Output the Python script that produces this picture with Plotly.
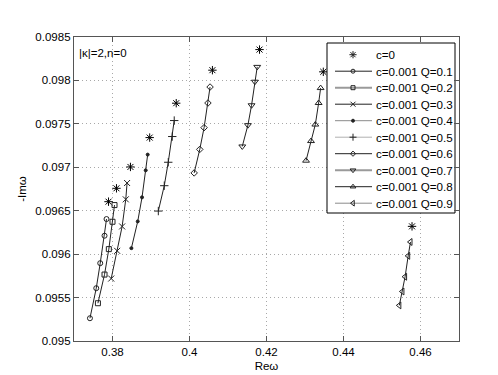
import plotly.graph_objects as go

# c = 0 reference points
c0_re = [0.37897, 0.38103, 0.38466, 0.38966, 0.39655, 0.40595, 0.41819, 0.43475, 0.4578]
c0_im = [0.096604, 0.096758, 0.097004, 0.097342, 0.097738, 0.098118, 0.098355, 0.098099, 0.09632]

# c = 0.001 series, one per Q
q_labels = ["0.1", "0.2", "0.3", "0.4", "0.5", "0.6", "0.7", "0.8", "0.9"]
re_q01 = [0.37414, 0.37578, 0.37681, 0.37793, 0.37845]
im_q01 = [0.095262, 0.095608, 0.095896, 0.096212, 0.096404]
re_q02 = [0.37621, 0.37793, 0.37905, 0.38000, 0.38052]
im_q02 = [0.095435, 0.095765, 0.096058, 0.096373, 0.096565]
re_q03 = [0.37966, 0.38121, 0.38250, 0.38345, 0.38379]
im_q03 = [0.095719, 0.096038, 0.096319, 0.096631, 0.096819]
re_q04 = [0.38491, 0.38655, 0.38767, 0.38862, 0.38914]
im_q04 = [0.096069, 0.096377, 0.096654, 0.096965, 0.097146]
re_q05 = [0.39190, 0.39345, 0.39448, 0.39552, 0.39603]
im_q05 = [0.096496, 0.096788, 0.097058, 0.097354, 0.097538]
re_q06 = [0.40121, 0.40267, 0.40379, 0.40479, 0.40534]
im_q06 = [0.096935, 0.097206, 0.097456, 0.097740, 0.097924]
re_q07 = [0.41371, 0.41517, 0.41612, 0.41698, 0.41759]
im_q07 = [0.097240, 0.097485, 0.097714, 0.097985, 0.098156]
re_q08 = [0.43027, 0.43156, 0.43268, 0.43354, 0.43406]
im_q08 = [0.097076, 0.097302, 0.097492, 0.097740, 0.097912]
re_q09 = [0.45450, 0.45530, 0.45600, 0.45680, 0.45740]
im_q09 = [0.095410, 0.095570, 0.095740, 0.095980, 0.096140]

x_tickvals = [0.38, 0.40, 0.42, 0.44, 0.46]
x_ticktext = ["0.38", "0.4", "0.42", "0.44", "0.46"]
y_tickvals = [0.095, 0.0955, 0.096, 0.0965, 0.097, 0.0975, 0.098, 0.0985]
y_ticktext = ["0.095", "0.0955", "0.096", "0.0965", "0.097", "0.0975", "0.098", "0.0985"]

series_re = [re_q01, re_q02, re_q03, re_q04, re_q05, re_q06, re_q07, re_q08, re_q09]
series_im = [im_q01, im_q02, im_q03, im_q04, im_q05, im_q06, im_q07, im_q08, im_q09]
symbols = ["circle-open", "square-open", "x-thin-open", "circle", "cross-thin-open",
           "diamond-open", "triangle-down-open", "triangle-up-open", "triangle-left-open"]
sizes = [5, 5, 6, 3, 6, 5, 6, 6, 6]

FONT = "Liberation Sans, Arial, sans-serif"
INK = "#222222"

fig = go.Figure()
fig.add_trace(go.Scatter(
    x=c0_re, y=c0_im, mode="markers", name="c=0", showlegend=False,
    marker=dict(symbol="asterisk-open", size=7, color="black",
                line=dict(width=1, color="black")),
))
for q, xs, ys, sym, sz in zip(q_labels, series_re, series_im, symbols, sizes):
    fig.add_trace(go.Scatter(
        x=xs, y=ys, mode="lines+markers", name=f"c=0.001 Q={q}", showlegend=False,
        line=dict(color=INK, width=1),
        marker=dict(symbol=sym, size=sz, color=INK, line=dict(width=1, color=INK)),
    ))

# ---- hand-drawn legend box (pixel-space overlay axes) ----
leg_names = ["c=0"] + [f"c=0.001 Q={q}" for q in q_labels]
leg_symbols = ["asterisk-open"] + symbols
leg_sizes = [6] + [4, 4, 5, 3, 5, 4, 5, 5, 5]
leg_line_colors = [None, "#222222", "#9a9a9a", "#222222", "#8a8a8a", "#b0b0b0",
                   "#222222", "#9a9a9a", "#222222", "#8a8a8a"]
leg_line_widths = [0, 1, 2, 1, 1, 1, 1, 2, 1, 1]
box_l, box_r, box_t, box_b = 319, 447, 35, 205
row0, row_step = 46.7, 16.5
ln_l, ln_r, mk_x, txt_x = 327, 364, 345, 366

fig.add_trace(go.Scatter(
    x=[box_l, box_r, box_r, box_l, box_l], y=[box_t, box_t, box_b, box_b, box_t],
    xaxis="x2", yaxis="y2", mode="lines", fill="toself", fillcolor="white",
    line=dict(color="black", width=1), showlegend=False, hoverinfo="skip",
))
annotations = []
for i, (nm, sym, sz, lc, lw) in enumerate(zip(leg_names, leg_symbols, leg_sizes,
                                               leg_line_colors, leg_line_widths)):
    ry = row0 + i * row_step
    if lc is not None:
        fig.add_trace(go.Scatter(
            x=[ln_l, ln_r], y=[ry, ry], xaxis="x2", yaxis="y2", mode="lines",
            line=dict(color=lc, width=lw), showlegend=False, hoverinfo="skip",
        ))
    fig.add_trace(go.Scatter(
        x=[mk_x], y=[ry], xaxis="x2", yaxis="y2", mode="markers",
        marker=dict(symbol=sym, size=sz, color=INK, line=dict(width=1, color=INK)),
        showlegend=False, hoverinfo="skip",
    ))
    annotations.append(dict(
        text=nm, x=txt_x, y=ry, xref="x2", yref="y2", xanchor="left",
        yanchor="middle", showarrow=False,
        font=dict(family=FONT, size=11.6, color="black"),
    ))

annotations.append(dict(
    text="|κ|=2,n=0", x=0.008, xref="paper", y=0.09832, yref="y",
    xanchor="left", yanchor="middle", showarrow=False,
    font=dict(family=FONT, size=11.5, color="black"),
))

axis_common = dict(
    showline=True, linecolor="#555555", linewidth=1.3, mirror="ticks",
    ticks="inside", ticklen=5, tickcolor="#555555", tickwidth=1,
    showgrid=True, gridcolor="#a8a8a8", griddash="1px,3px", gridwidth=1,
    zeroline=False, tickfont=dict(family=FONT, size=11.5, color="black"),
)

fig.update_layout(
    width=498, height=375,
    margin=dict(l=66, r=47, t=29, b=42),
    paper_bgcolor="white", plot_bgcolor="white",
    font=dict(family=FONT, size=12, color="black"),
    showlegend=False,
    xaxis=dict(range=[0.37, 0.47], tickvals=x_tickvals, ticktext=x_ticktext,
               title=dict(text="Reω", font=dict(family=FONT, size=11.5), standoff=4),
               **axis_common),
    yaxis=dict(range=[0.095, 0.0985], tickvals=y_tickvals, ticktext=y_ticktext,
               title=dict(text="-Imω", font=dict(family=FONT, size=11.5), standoff=6),
               **axis_common),
    xaxis2=dict(overlaying="x", range=[66, 451], visible=False, fixedrange=True),
    yaxis2=dict(overlaying="y", range=[333, 29], visible=False, fixedrange=True),
    annotations=annotations,
)

fig.write_html("out.html")
